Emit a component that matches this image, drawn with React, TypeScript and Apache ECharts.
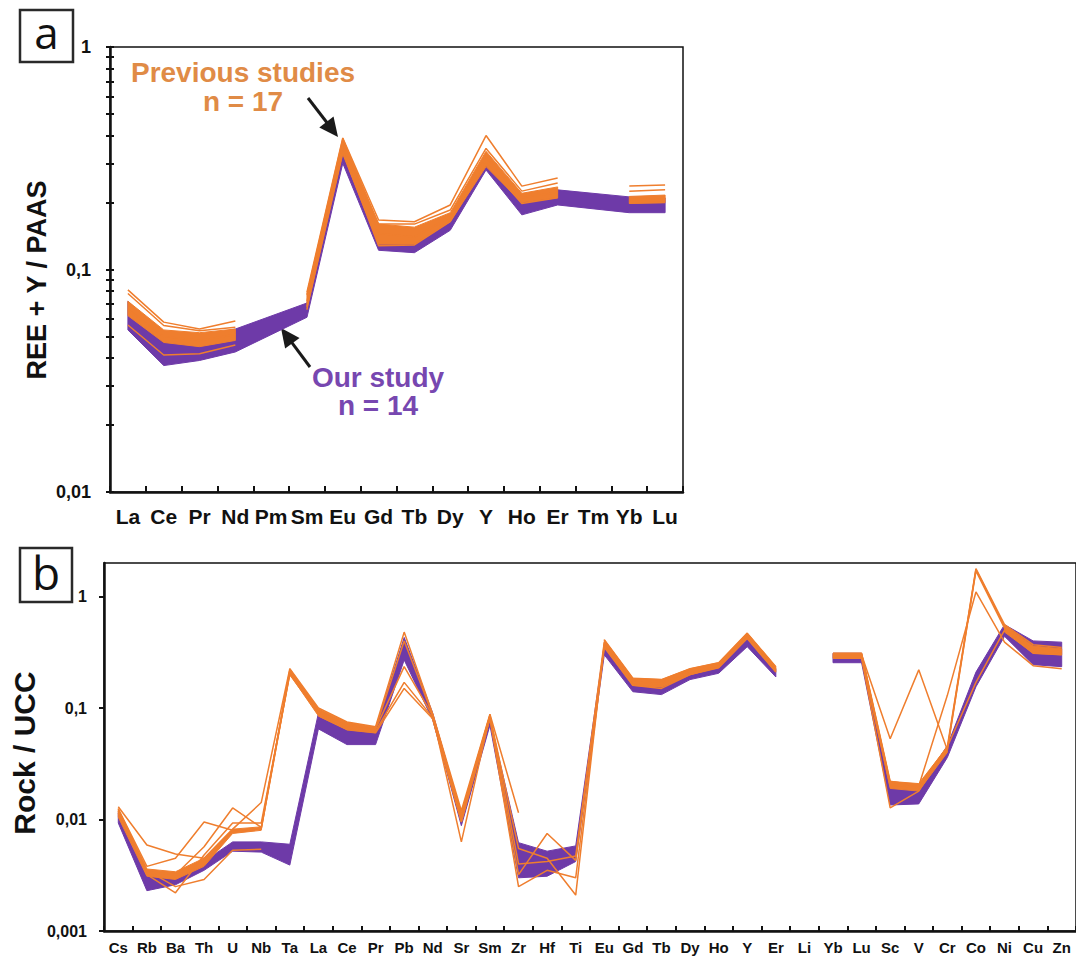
import React, { useEffect, useRef } from 'react';
import * as echarts from 'echarts';

// ---------- Panel a : REE + Y / PAAS ----------
const catsA = ['La', 'Ce', 'Pr', 'Nd', 'Pm', 'Sm', 'Eu', 'Gd', 'Tb', 'Dy', 'Y', 'Ho', 'Er', 'Tm', 'Yb', 'Lu'];
// our study (n = 14): envelope of the purple bundle
const ourLowA = [0.0535, 0.037, 0.039, 0.0426, null, 0.061, 0.30, 0.122, 0.119, 0.15, 0.28, 0.176, 0.195, null, 0.18, 0.18];
const ourHighA = [0.072, 0.05, 0.05, 0.054, null, 0.0707, 0.34, 0.145, 0.14, 0.17, 0.31, 0.2, 0.228, null, 0.212, 0.21];
// previous studies (n = 17): dense core of the orange bundle
const prevLowA = [0.062, 0.047, 0.045, 0.048, null, 0.066, 0.33, 0.13, 0.13, 0.164, 0.29, 0.2, 0.21, null, 0.198, 0.2];
const prevHighA = [0.072, 0.0535, 0.052, 0.054, null, 0.078, 0.39, 0.16, 0.155, 0.18, 0.34, 0.22, 0.235, null, 0.213, 0.216];
// previous studies: individual visible lines
const prevA1 = [0.081, 0.058, 0.054, 0.0587, null, 0.079, 0.39, 0.167, 0.164, 0.195, 0.40, 0.237, 0.258, null, 0.237, 0.24];
const prevA2 = [0.078, 0.056, 0.053, 0.055, null, 0.077, 0.37, 0.16, 0.16, 0.185, 0.35, 0.225, 0.245, null, 0.225, 0.228];
const prevA3 = [0.0563, 0.0413, 0.0418, 0.0458, null, 0.068, 0.34, 0.128, 0.129, 0.164, 0.30, 0.198, 0.21, null, 0.199, 0.2];
const prevA4 = [0.066, 0.05, 0.048, 0.051, null, 0.072, 0.36, 0.145, 0.14, 0.172, 0.32, 0.21, 0.222, null, 0.206, 0.208];
const ticksA = [0.01, 0.02, 0.03, 0.04, 0.05, 0.06, 0.07, 0.08, 0.09, 0.1, 0.2, 0.3, 0.4, 0.5, 0.6, 0.7, 0.8, 0.9, 1];

// ---------- Panel b : Rock / UCC ----------
const catsB = ['Cs', 'Rb', 'Ba', 'Th', 'U', 'Nb', 'Ta', 'La', 'Ce', 'Pr', 'Pb', 'Nd', 'Sr', 'Sm', 'Zr', 'Hf', 'Ti', 'Eu', 'Gd', 'Tb', 'Dy', 'Ho', 'Y', 'Er', 'Li', 'Yb', 'Lu', 'Sc', 'V', 'Cr', 'Co', 'Ni', 'Cu', 'Zn'];
const ourLowB = [0.0093, 0.0023, 0.0026, 0.0035, 0.0052, 0.0051, 0.0039, 0.065, 0.047, 0.047, 0.27, 0.078, 0.0088, 0.07, 0.003, 0.0031, 0.0042, 0.3, 0.14, 0.132, 0.18, 0.205, 0.355, 0.19, null, 0.255, 0.255, 0.0135, 0.0138, 0.036, 0.155, 0.44, 0.245, 0.235];
const ourHighB = [0.0115, 0.0034, 0.0032, 0.0042, 0.0063, 0.0063, 0.006, 0.09, 0.068, 0.066, 0.43, 0.09, 0.011, 0.08, 0.0062, 0.0052, 0.0058, 0.37, 0.17, 0.16, 0.21, 0.235, 0.42, 0.225, null, 0.31, 0.31, 0.02, 0.019, 0.046, 0.21, 0.56, 0.4, 0.39];
const prevLowB = [0.0105, 0.0031, 0.0029, 0.0038, 0.0075, 0.008, 0.2, 0.085, 0.064, 0.06, null, 0.078, 0.0095, 0.08, null, null, null, 0.36, 0.16, 0.155, 0.2, 0.23, 0.42, 0.21, null, 0.28, 0.28, 0.019, 0.018, 0.04, null, 0.48, 0.31, 0.3];
const prevHighB = [0.0125, 0.0036, 0.0034, 0.0045, 0.0082, 0.0086, 0.225, 0.098, 0.074, 0.067, null, 0.088, 0.0115, 0.088, null, null, null, 0.41, 0.185, 0.18, 0.225, 0.255, 0.47, 0.235, null, 0.31, 0.31, 0.022, 0.021, 0.045, null, 0.55, 0.36, 0.34];
const prevB1 = [0.013, 0.0059, 0.0049, 0.0045, 0.0082, 0.0142, 0.225, 0.1, 0.075, 0.068, 0.48, 0.088, 0.012, 0.088, 0.0115, null, null, 0.41, 0.185, 0.18, 0.225, 0.255, 0.47, 0.235, null, 0.31, 0.31, 0.022, 0.02, 0.045, 1.78, 0.56, 0.37, 0.35];
const prevB2 = [0.0125, 0.0038, 0.0045, 0.0095, 0.008, 0.0083, 0.21, 0.095, 0.07, 0.065, 0.235, 0.085, 0.0063, 0.085, 0.0055, 0.0045, 0.0021, 0.38, 0.17, 0.165, 0.21, 0.24, 0.45, 0.22, null, 0.3, 0.3, 0.053, 0.22, 0.042, 1.7, 0.52, 0.34, 0.32];
const prevB3 = [0.012, 0.0032, 0.0022, 0.0048, 0.0093, 0.0093, 0.2, 0.09, 0.068, 0.062, 0.17, 0.082, 0.0105, 0.082, 0.0032, 0.0075, 0.0043, 0.36, 0.16, 0.155, 0.2, 0.235, 0.43, 0.215, null, 0.29, 0.29, 0.02, 0.02, 0.13, 1.1, 0.39, 0.24, 0.225];
const prevB4 = [0.0115, 0.0035, 0.0025, 0.0029, 0.0053, 0.0054, null, 0.085, 0.064, 0.06, 0.15, 0.08, 0.0095, 0.08, 0.0025, 0.0035, 0.003, 0.35, 0.16, 0.15, 0.2, 0.23, 0.42, 0.21, null, 0.28, 0.28, 0.0127, 0.018, 0.045, 0.17, 0.5, 0.31, 0.3];
const prevB5 = [0.012, 0.0034, 0.0032, 0.0057, 0.0127, 0.0085, 0.215, 0.092, 0.072, 0.066, 0.4, 0.086, 0.011, 0.086, 0.004, 0.0042, 0.0047, 0.39, 0.18, 0.17, 0.215, 0.245, 0.46, 0.225, null, 0.3, 0.3, 0.021, 0.019, 0.043, 1.75, 0.54, 0.35, 0.33];
const ticksB = [0.001, 0.01, 0.1, 1];

const PURPLE = '#6E3AA8';
const ORANGE = '#EF7E2E';
const ORANGE_TEXT = '#E08B46';
const PURPLE_TEXT = '#7747B0';
const INK = '#111111';
const FONT = '"Liberation Sans", Arial, sans-serif';

function makeBand(low: (number | null)[], high: (number | null)[], connect: boolean, color: string) {
  return (params: any, api: any) => {
    const segs: number[][] = [];
    let cur: number[] = [];
    for (let i = 0; i < low.length; i++) {
      if (low[i] == null || high[i] == null) {
        if (!connect && cur.length) { segs.push(cur); cur = []; }
        continue;
      }
      cur.push(i);
    }
    if (cur.length) segs.push(cur);
    const children = segs.filter((s) => s.length >= 2).map((s) => {
      const top = s.map((i) => api.coord([i, high[i]]));
      const bot = s.slice().reverse().map((i) => api.coord([i, low[i]]));
      return {
        type: 'polygon',
        shape: { points: top.concat(bot) },
        style: { fill: color, stroke: color, lineWidth: 1 },
      };
    });
    return { type: 'group', children };
  };
}

function lineSeries(data: (number | null)[], xi: number, yi: number) {
  return {
    type: 'line', xAxisIndex: xi, yAxisIndex: yi, data, symbol: 'none', connectNulls: false,
    lineStyle: { color: ORANGE, width: 1.5 }, silent: true, z: 4,
  };
}

const fmt = (v: number) => {
  const l = Math.log10(v);
  if (Math.abs(l - Math.round(l)) > 1e-6) return '';
  return String(v).replace('.', ',');
};

function arrow(tail: number[], tip: number[], len: number, half: number) {
  const dx = tip[0] - tail[0];
  const dy = tip[1] - tail[1];
  const d = Math.hypot(dx, dy);
  const ux = dx / d, uy = dy / d;
  const bx = tip[0] - ux * len, by = tip[1] - uy * len;
  const px = -uy * half, py = ux * half;
  return [
    { type: 'line', shape: { x1: tail[0], y1: tail[1], x2: bx + ux * 2, y2: by + uy * 2 }, style: { stroke: '#1a1a1a', lineWidth: 3 } },
    { type: 'polygon', shape: { points: [tip, [bx + px, by + py], [bx - px, by - py]] }, style: { fill: '#1a1a1a' } },
  ];
}

const centered = { align: 'center', verticalAlign: 'middle', textAlign: 'center', textVerticalAlign: 'middle' };

export default function App() {
  const ref = useRef<HTMLDivElement>(null);
  useEffect(() => {
    if (!ref.current) return;
    const chart = echarts.init(ref.current, null, { renderer: 'svg' });
    const axisLine = { show: true, lineStyle: { color: INK, width: 2.5 } };
    const option: any = {
      animation: false,
      backgroundColor: '#ffffff',
      grid: [
        { left: 110, top: 47, width: 573, height: 445, show: true, borderColor: INK, borderWidth: 1.5 },
        { left: 104, top: 563, width: 976, height: 368, show: true, borderColor: INK, borderWidth: 1.5 },
      ],
      xAxis: [
        {
          gridIndex: 0, type: 'category', data: catsA, boundaryGap: true,
          axisLine, axisTick: { show: true, inside: true, length: 6, lineStyle: { color: INK, width: 2 } },
          axisLabel: { interval: 0, margin: 14, fontSize: 21, fontWeight: 'bold', color: INK, fontFamily: FONT },
          splitLine: { show: false },
        },
        {
          gridIndex: 1, type: 'category', data: catsB, boundaryGap: true,
          axisLine, axisTick: { show: true, inside: true, length: 5, lineStyle: { color: INK, width: 2 } },
          axisLabel: { interval: 0, margin: 9, fontSize: 15, fontWeight: 'bold', color: INK, fontFamily: FONT },
          splitLine: { show: false },
        },
      ],
      yAxis: [
        {
          gridIndex: 0, type: 'log', logBase: 10, min: 0.01, max: 1, position: 'left',
          axisLine, axisTick: { show: true, inside: false, length: 4, customValues: ticksA, lineStyle: { color: INK, width: 2 } },
          axisLabel: { margin: 19, fontSize: 18, fontWeight: 'bold', color: INK, fontFamily: FONT, formatter: fmt },
          splitLine: { show: false },
        },
        {
          gridIndex: 0, type: 'log', logBase: 10, min: 0.01, max: 1, position: 'left',
          axisLine: { show: false }, axisTick: { show: true, inside: true, length: 4, customValues: ticksA, lineStyle: { color: INK, width: 2 } },
          axisLabel: { show: false }, splitLine: { show: false },
        },
        {
          gridIndex: 1, type: 'log', logBase: 10, min: 0.001, max: 2, position: 'left',
          axisLine, axisTick: { show: true, inside: false, length: 5, customValues: ticksB, lineStyle: { color: INK, width: 2 } },
          axisLabel: { margin: 17, fontSize: 16, fontWeight: 'bold', color: INK, fontFamily: FONT, formatter: fmt },
          splitLine: { show: false },
        },
      ],
      series: [
        { type: 'custom', xAxisIndex: 0, yAxisIndex: 0, data: [[0, 0.1]], renderItem: makeBand(ourLowA, ourHighA, true, PURPLE), silent: true, z: 2 },
        { type: 'custom', xAxisIndex: 0, yAxisIndex: 0, data: [[0, 0.1]], renderItem: makeBand(prevLowA, prevHighA, false, ORANGE), silent: true, z: 3 },
        lineSeries(prevA1, 0, 0),
        lineSeries(prevA2, 0, 0),
        lineSeries(prevA3, 0, 0),
        lineSeries(prevA4, 0, 0),
        { type: 'custom', xAxisIndex: 1, yAxisIndex: 2, data: [[0, 0.1]], renderItem: makeBand(ourLowB, ourHighB, false, PURPLE), silent: true, z: 2 },
        { type: 'custom', xAxisIndex: 1, yAxisIndex: 2, data: [[0, 0.1]], renderItem: makeBand(prevLowB, prevHighB, false, ORANGE), silent: true, z: 3 },
        lineSeries(prevB1, 1, 2),
        lineSeries(prevB2, 1, 2),
        lineSeries(prevB3, 1, 2),
        lineSeries(prevB4, 1, 2),
        lineSeries(prevB5, 1, 2),
      ],
      graphic: [
        { type: 'rect', shape: { x: 20, y: 10, width: 53, height: 52 }, style: { fill: 'none', stroke: '#2a2a2a', lineWidth: 2.5 } },
        { type: 'text', x: 46.5, y: 32, style: { text: 'a', font: '44px "Open Sans", sans-serif', fill: INK, ...centered } },
        { type: 'rect', shape: { x: 20, y: 548, width: 52, height: 54 }, style: { fill: 'none', stroke: '#2a2a2a', lineWidth: 2.5 } },
        { type: 'text', x: 46, y: 572, style: { text: 'b', font: '46px "Open Sans", sans-serif', fill: INK, ...centered } },
        { type: 'text', x: 37, y: 280, rotation: Math.PI / 2, style: { text: 'REE + Y / PAAS', font: 'bold 27px ' + FONT, fill: INK, ...centered } },
        { type: 'text', x: 24, y: 753, rotation: Math.PI / 2, style: { text: 'Rock / UCC', font: 'bold 30px ' + FONT, fill: INK, ...centered } },
        { type: 'text', x: 243, y: 72, style: { text: 'Previous studies', font: 'bold 28px ' + FONT, fill: ORANGE_TEXT, ...centered } },
        { type: 'text', x: 243, y: 101, style: { text: 'n = 17', font: 'bold 28px ' + FONT, fill: ORANGE_TEXT, ...centered } },
        { type: 'text', x: 378, y: 377, style: { text: 'Our study', font: 'bold 28px ' + FONT, fill: PURPLE_TEXT, ...centered } },
        { type: 'text', x: 378, y: 405, style: { text: 'n = 14', font: 'bold 28px ' + FONT, fill: PURPLE_TEXT, ...centered } },
        ...arrow([308, 98], [338, 137], 19, 9),
        ...arrow([310, 367], [281, 328], 19, 9),
      ],
    };
    chart.setOption(option);
    return () => chart.dispose();
  }, []);
  return <div ref={ref} style={{ position: 'absolute', left: 0, top: 0, width: 1076, height: 961 }} />;
}
